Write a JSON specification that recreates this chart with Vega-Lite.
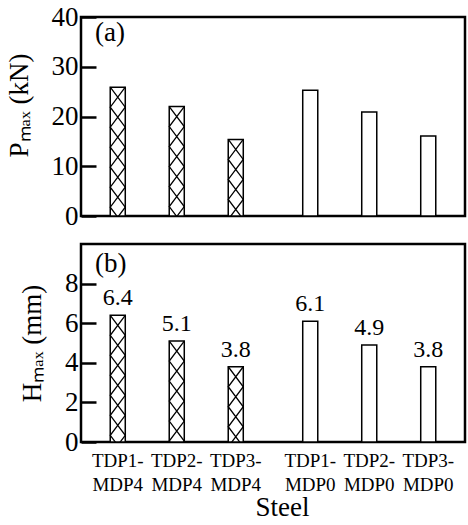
{
  "$schema": "https://vega.github.io/schema/vega-lite/v6.json",
  "padding": {"left": 3, "top": 1, "right": 0, "bottom": 5},
  "datasets": {
    "steel": [
      {"steel": "TDP1-MDP4", "tdp": "TDP1", "mdp": "MDP4", "Pmax": 25.9, "Hmax": 6.4},
      {"steel": "TDP2-MDP4", "tdp": "TDP2", "mdp": "MDP4", "Pmax": 22.0, "Hmax": 5.1},
      {"steel": "TDP3-MDP4", "tdp": "TDP3", "mdp": "MDP4", "Pmax": 15.4, "Hmax": 3.8},
      {"steel": "TDP1-MDP0", "tdp": "TDP1", "mdp": "MDP0", "Pmax": 25.3, "Hmax": 6.1},
      {"steel": "TDP2-MDP0", "tdp": "TDP2", "mdp": "MDP0", "Pmax": 20.9, "Hmax": 4.9},
      {"steel": "TDP3-MDP0", "tdp": "TDP3", "mdp": "MDP0", "Pmax": 16.1, "Hmax": 3.8}
    ]
  },
  "spacing": 28,
  "bounds": "flush",
  "vconcat": [
    {
      "width": 384,
      "height": 199,
      "data": {"name": "steel"},
      "title": {"text": "(a)", "offset": -44},
      "encoding": {
        "x": {"field": "mdp", "type": "nominal", "sort": ["MDP4", "MDP0"], "scale": {"paddingInner": 0.0805, "paddingOuter": 0.0377}, "axis": null},
        "xOffset": {"field": "tdp", "type": "nominal", "sort": ["TDP1", "TDP2", "TDP3"], "scale": {"paddingInner": 0.745, "paddingOuter": 0.3725}},
        "y": {"field": "Pmax", "type": "quantitative", "scale": {"domain": [0, 40]}, "axis": {"values": [0, 10, 20, 30, 40], "title": "Pₘₐₓ (kN)", "titleY": 88}}
      },
      "layer": [
        {"mark": {"type": "bar", "fill": "white", "stroke": "black", "strokeWidth": 1.5}},
        {
          "transform": [{"filter": "datum.mdp === 'MDP4'"}],
          "mark": {"type": "point", "shape": "M-1,0L1,2.667L-1,5.333L1,8L-1,10.667L1,13.333L-1,16L1,18.667L-1,21.333L1,24M1,0L-1,2.667L1,5.333L-1,8L1,10.667L-1,13.333L1,16L-1,18.667L1,21.333L-1,24", "size": 225, "filled": false, "stroke": "black", "strokeWidth": 1.3, "opacity": 1, "clip": true}
        }
      ]
    },
    {
      "width": 384,
      "height": 198,
      "data": {"name": "steel"},
      "title": {"text": "(b)", "offset": -34},
      "encoding": {
        "x": {"field": "mdp", "type": "nominal", "sort": ["MDP4", "MDP0"], "scale": {"paddingInner": 0.0805, "paddingOuter": 0.0377}, "axis": {"title": "Steel", "labels": false, "ticks": false, "domain": false, "titlePadding": 52, "titleX": 201}},
        "xOffset": {"field": "tdp", "type": "nominal", "sort": ["TDP1", "TDP2", "TDP3"], "scale": {"paddingInner": 0.745, "paddingOuter": 0.3725}},
        "y": {"field": "Hmax", "type": "quantitative", "scale": {"domain": [0, 10]}, "axis": {"values": [0, 2, 4, 6, 8], "title": "Hₘₐₓ (mm)"}}
      },
      "layer": [
        {"mark": {"type": "bar", "fill": "white", "stroke": "black", "strokeWidth": 1.5}},
        {
          "transform": [{"filter": "datum.mdp === 'MDP4'"}],
          "mark": {"type": "point", "shape": "M-1,0L1,2.667L-1,5.333L1,8L-1,10.667L1,13.333L-1,16L1,18.667L-1,21.333L1,24M1,0L-1,2.667L1,5.333L-1,8L1,10.667L-1,13.333L1,16L-1,18.667L1,21.333L-1,24", "size": 225, "filled": false, "stroke": "black", "strokeWidth": 1.3, "opacity": 1, "clip": true}
        },
        {
          "mark": {"type": "text", "font": "Liberation Serif", "fontSize": 24, "color": "black", "baseline": "alphabetic", "dy": -10},
          "encoding": {"text": {"field": "Hmax", "type": "quantitative", "format": ".1f"}}
        },
        {
          "transform": [{"calculate": "[datum.tdp + '-', datum.mdp]", "as": "lab"}],
          "mark": {"type": "text", "font": "Liberation Serif", "fontSize": 19, "color": "black", "baseline": "alphabetic", "dy": 25, "lineHeight": 24},
          "encoding": {"y": {"datum": 0}, "text": {"field": "lab"}}
        }
      ]
    }
  ],
  "config": {
    "view": {"stroke": "black", "strokeWidth": 2.5},
    "font": "Liberation Serif",
    "axis": {
      "labelFont": "Liberation Serif", "labelFontSize": 27, "labelColor": "black",
      "titleFont": "Liberation Serif", "titleFontSize": 27, "titleFontWeight": "normal", "titleColor": "black",
      "domain": false, "grid": false, "tickColor": "black", "tickWidth": 2.5, "tickSize": -15, "labelPadding": 18, "titlePadding": 18
    },
    "title": {"font": "Liberation Serif", "fontSize": 27, "fontWeight": "normal", "color": "black", "anchor": "start", "frame": "group", "dx": 14, "baseline": "alphabetic"}
  }
}
